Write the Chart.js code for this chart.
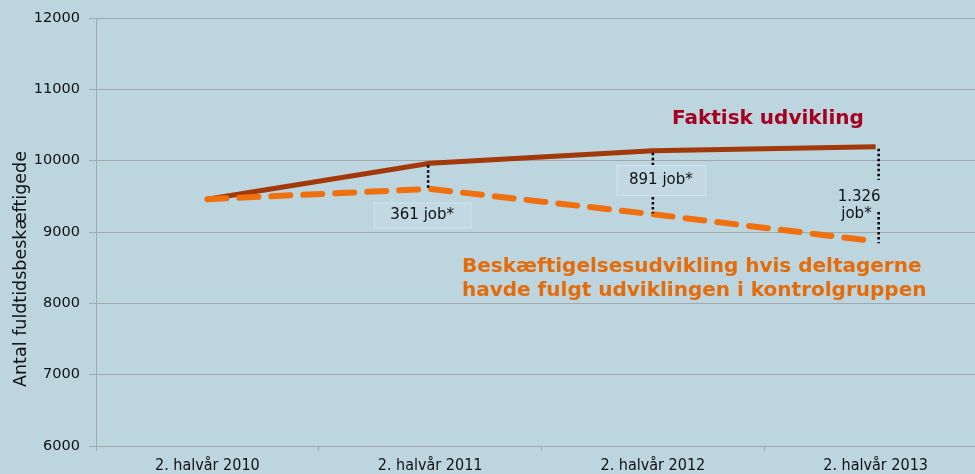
<!DOCTYPE html>
<html>
<head>
<meta charset="utf-8">
<script src="https://cdn.jsdelivr.net/npm/chart.js@4/dist/chart.umd.min.js"></script>
<style>
  body { margin: 0; background: #bdd5df; overflow: hidden; }
  #wrap { width: 975px; height: 474px; overflow: hidden; }
</style>
</head>
<body>
<div id="wrap"><canvas id="myChart" width="987" height="474"></canvas></div>
<script>
// data
const halvaar = ['2. halvår 2010', '2. halvår 2011', '2. halvår 2012', '2. halvår 2013'];
const faktisk = [9460, 9965, 10140, 10195];
const kontrol = [9460, 9604, 9249, 8869];
const effektTekst = ['', '361 job*', '891 job*', '1.326 job*'];
const yTicks = [6000, 7000, 8000, 9000, 10000, 11000, 12000];

// tegner prikkede linjer, bokse og tekster oven paa grafen
const noter = {
  id: 'noter',
  afterDatasetsDraw(chart) {
    const ctx = chart.ctx;
    const x = chart.scales.x;
    const y = chart.scales.y;
    const px = (i) => x.getPixelForValue(i);

    ctx.save();
    // prikkede linjer
    ctx.strokeStyle = '#000';
    ctx.lineWidth = 2.5;
    ctx.setLineDash([2.5, 2.5]);
    const dot = (xx, y1, y2) => {
      ctx.beginPath();
      ctx.moveTo(xx, y1);
      ctx.lineTo(xx, y2);
      ctx.stroke();
    };
    dot(px(1) - 2, y.getPixelForValue(faktisk[1]) + 2, y.getPixelForValue(kontrol[1]) - 1);
    dot(px(2), y.getPixelForValue(faktisk[2]) + 2, 165);
    dot(px(2), 197, y.getPixelForValue(kontrol[2]) - 1);
    dot(px(3) + 3, y.getPixelForValue(faktisk[3]) + 2, 180);
    dot(px(3) + 3, 212, y.getPixelForValue(kontrol[3]) + 2);
    ctx.setLineDash([]);

    // bokse med antal job
    ctx.font = '15px "DejaVu Sans"';
    ctx.textAlign = 'center';
    ctx.textBaseline = 'middle';
    const boks = (cx, cy, w, h, txt) => {
      ctx.fillStyle = '#c2d8e2';
      ctx.fillRect(cx - w / 2, cy - h / 2, w, h);
      ctx.strokeStyle = '#d3e3ea';
      ctx.lineWidth = 1;
      ctx.strokeRect(cx - w / 2 + 0.5, cy - h / 2 + 0.5, w, h);
      ctx.fillStyle = '#111';
      ctx.fillText(txt, cx, cy);
    };
    boks(px(1) - 8, 215, 97, 25, effektTekst[1]);
    boks(px(2) + 8, 180, 89, 30, effektTekst[2]);

    ctx.textAlign = 'right';
    const sidste = effektTekst[3].split(' ');
    ctx.fillText(sidste[0], px(3) + 5, 197);
    ctx.fillText(sidste[1], px(3) - 4, 214);

    // serienavne
    ctx.textAlign = 'left';
    ctx.font = 'bold 20px "DejaVu Sans"';
    ctx.fillStyle = '#a50021';
    ctx.fillText('Faktisk udvikling', 672, 119);
    ctx.fillStyle = '#e46c0a';
    ctx.fillText('Beskæftigelsesudvikling hvis deltagerne', 462, 267);
    ctx.fillText('havde fulgt udviklingen i kontrolgruppen', 462, 291);

    // y-akse titel
    ctx.translate(21, 269);
    ctx.rotate(-Math.PI / 2);
    ctx.textAlign = 'center';
    ctx.font = '17.5px "DejaVu Sans"';
    ctx.fillStyle = '#111';
    ctx.fillText('Antal fuldtidsbeskæftigede', 0, 0);
    ctx.restore();
  }
};

const myChart = new Chart(document.getElementById('myChart'), {
  type: 'line',
  data: {
    labels: halvaar,
    datasets: [{
      label: 'Kontrolgruppe',
      data: kontrol,
      borderColor: '#f07010',
      borderWidth: 6,
      borderDash: [19, 13],
      borderCapStyle: 'round',
      pointRadius: 0,
      tension: 0
    }, {
      label: 'Faktisk udvikling',
      data: faktisk,
      borderColor: '#a3380a',
      borderWidth: 5,
      pointRadius: 0,
      tension: 0
    }]
  },
  options: {
    responsive: false,
    devicePixelRatio: 1,
    animation: false,
    layout: { padding: { top: 18, left: 0, right: 0, bottom: 0 } },
    plugins: { legend: { display: false }, tooltip: { enabled: false } },
    scales: {
      x: {
        offset: true,
        grid: {
          offset: true,
          drawOnChartArea: false,
          drawTicks: true,
          tickLength: 5,
          color: '#a0a8ac'
        },
        border: { color: '#a0a8ac', width: 1 },
        ticks: {
          color: '#111',
          font: { family: '"DejaVu Sans Condensed"', size: 16 },
          padding: 5,
          maxRotation: 0
        },
        afterFit(scale) { scale.height = 28; }
      },
      y: {
        min: 6000,
        max: 12000,
        afterBuildTicks(scale) { scale.ticks = yTicks.map(v => ({ value: v })); },
        grid: { color: '#a0a8ac', tickLength: 7 },
        border: { color: '#a0a8ac', width: 1 },
        ticks: {
          color: '#111',
          font: { family: '"DejaVu Sans"', size: 14.5 },
          padding: 9,
          callback: (v) => String(v)
        },
        afterFit(scale) { scale.width = 96; }
      }
    }
  },
  plugins: [noter]
});
</script>
</body>
</html>
